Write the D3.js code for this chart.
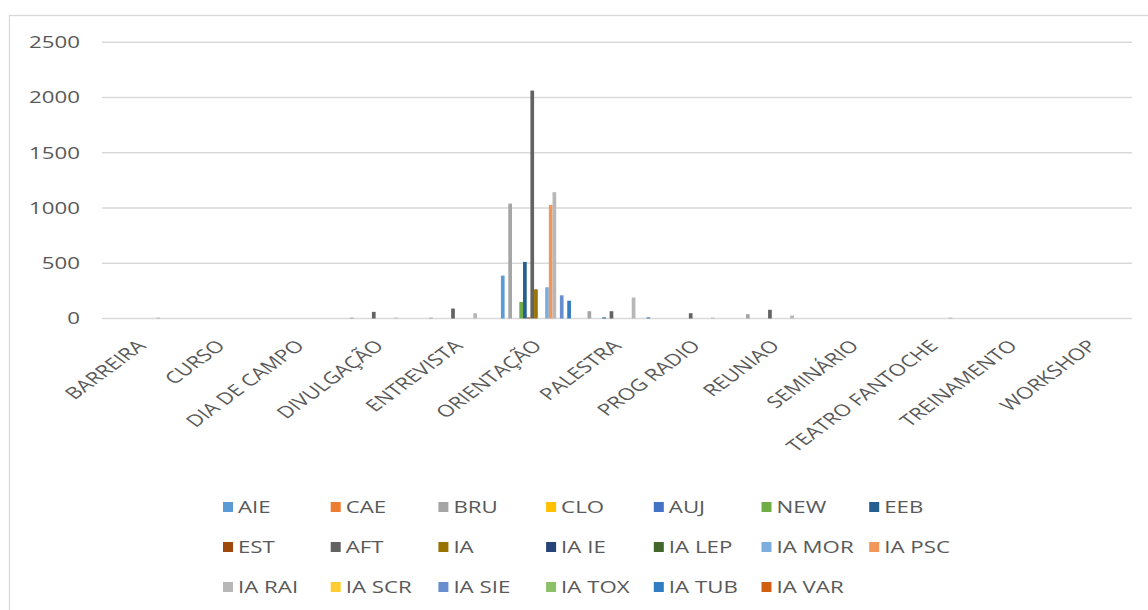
<!DOCTYPE html>
<html>
<head>
<meta charset="utf-8">
<script src="https://cdn.jsdelivr.net/npm/d3@7"></script>
<style>
  html, body { margin: 0; padding: 0; background: #fff; }
  svg { display: block; }
  text { font-family: "Open Sans", "DejaVu Sans", sans-serif; fill: #595959; }
</style>
</head>
<body>
<svg id="chart" width="1148" height="610"></svg>
<script>
// Activity categories along the x axis
const categories = ["BARREIRA", "CURSO", "DIA DE CAMPO", "DIVULGAÇÃO", "ENTREVISTA",
  "ORIENTAÇÃO", "PALESTRA", "PROG RADIO", "REUNIAO", "SEMINÁRIO",
  "TEATRO FANTOCHE", "TREINAMENTO", "WORKSHOP"];

// Series names, in legend order
const seriesNames = ["AIE", "CAE", "BRU", "CLO", "AUJ", "NEW", "EEB",
  "EST", "AFT", "IA", "IA IE", "IA LEP", "IA MOR", "IA PSC",
  "IA RAI", "IA SCR", "IA SIE", "IA TOX", "IA TUB", "IA VAR"];

const seriesColors = ["#5B9BD5", "#ED7D31", "#A5A5A5", "#FFC000", "#4472C4", "#70AD47", "#255E91",
  "#9E480E", "#636363", "#997300", "#264478", "#43682B", "#7CAFDD", "#F1975A",
  "#B7B7B7", "#FFCD33", "#698ED0", "#8CC168", "#327DC2", "#D26012"];

// One row per series, one value per category
const seriesValues = [
  /* AIE    */ [0, 0, 0, 0, 0, 388, 0, 0, 0, 0, 0, 0, 0],
  /* CAE    */ [0, 0, 0, 0, 0, 0, 0, 0, 0, 0, 0, 0, 0],
  /* BRU    */ [0, 0, 0, 8, 8, 1040, 66, 0, 39, 0, 0, 0, 0],
  /* CLO    */ [0, 0, 0, 0, 0, 0, 0, 0, 0, 0, 0, 0, 0],
  /* AUJ    */ [0, 0, 0, 0, 0, 0, 0, 0, 0, 0, 0, 0, 0],
  /* NEW    */ [0, 0, 0, 0, 0, 150, 0, 0, 0, 0, 0, 0, 0],
  /* EEB    */ [0, 0, 0, 0, 0, 512, 10, 0, 0, 0, 0, 0, 0],
  /* EST    */ [0, 0, 0, 0, 0, 10, 0, 0, 0, 0, 0, 0, 0],
  /* AFT    */ [0, 0, 0, 60, 90, 2063, 66, 48, 79, 0, 0, 0, 0],
  /* IA     */ [0, 0, 0, 0, 0, 264, 0, 0, 0, 0, 0, 0, 0],
  /* IA IE  */ [0, 0, 0, 0, 0, 0, 0, 0, 0, 0, 0, 0, 0],
  /* IA LEP */ [0, 0, 0, 0, 0, 0, 0, 0, 0, 0, 0, 0, 0],
  /* IA MOR */ [0, 0, 0, 0, 0, 283, 0, 0, 0, 0, 0, 0, 0],
  /* IA PSC */ [0, 0, 0, 0, 0, 1028, 0, 0, 0, 0, 0, 0, 0],
  /* IA RAI */ [8, 0, 0, 8, 48, 1143, 190, 8, 27, 0, 8, 0, 0],
  /* IA SCR */ [0, 0, 0, 0, 0, 0, 0, 0, 0, 0, 0, 0, 0],
  /* IA SIE */ [0, 0, 0, 0, 0, 210, 0, 0, 0, 0, 0, 0, 0],
  /* IA TOX */ [0, 0, 0, 0, 0, 0, 0, 0, 0, 0, 0, 0, 0],
  /* IA TUB */ [0, 0, 0, 0, 0, 161, 10, 0, 0, 0, 0, 0, 0],
  /* IA VAR */ [0, 0, 0, 0, 0, 0, 0, 0, 0, 0, 0, 0, 0]
];

const yTicks = [0, 500, 1000, 1500, 2000, 2500];

const svg = d3.select("#chart");
const textStretch = 1.35;   // wide lettering
const fontSize = 16.5;

const plot = { left: 102, right: 1132, top: 42.3, bottom: 318.5 };

// Chart frame
svg.append("rect")
  .attr("x", 9.5).attr("y", 15.5)
  .attr("width", 1160).attr("height", 620)
  .attr("fill", "none").attr("stroke", "#D9D9D9").attr("stroke-width", 1.3);

const x0 = d3.scaleBand().domain(categories).range([plot.left, plot.right]).paddingInner(0).paddingOuter(0);
const x1 = d3.scaleBand().domain(seriesNames).range([0, x0.bandwidth()]).paddingInner(0).paddingOuter(0.75);
const y = d3.scaleLinear().domain([0, 2500]).range([plot.bottom, plot.top]);

// Horizontal gridlines
svg.append("g").selectAll("line").data(yTicks).join("line")
  .attr("x1", plot.left).attr("x2", plot.right)
  .attr("y1", d => y(d)).attr("y2", d => y(d))
  .attr("stroke", "#D9D9D9").attr("stroke-width", 1.4);

// Y axis labels
svg.append("g").selectAll("text").data(yTicks).join("text")
  .attr("transform", d => `translate(80,${y(d)}) scale(${textStretch},1)`)
  .attr("text-anchor", "end")
  .attr("dy", "0.36em")
  .attr("font-size", fontSize)
  .text(d => d);

// Bars
const groups = svg.append("g").selectAll("g").data(categories).join("g")
  .attr("transform", d => `translate(${x0(d)},0)`);

groups.selectAll("rect")
  .data((c, ci) => seriesNames.map((s, si) => ({ s, si, v: seriesValues[si][ci] })).filter(d => d.v > 0))
  .join("rect")
  .attr("x", d => x1(d.s))
  .attr("width", x1.bandwidth())
  .attr("y", d => y(d.v))
  .attr("height", d => y(0) - y(d.v))
  .attr("fill", d => seriesColors[d.si]);

// Category labels, slanted
svg.append("g").selectAll("text").data(categories).join("text")
  .attr("transform", d => `translate(${x0(d) + x0.bandwidth() / 2 - 6},${plot.bottom + 20}) scale(${textStretch},1) rotate(-45)`)
  .attr("text-anchor", "end")
  .attr("dy", "0.72em")
  .attr("font-size", fontSize)
  .text(d => d);

// Legend: 7 items per row
const legendX = 223, legendStep = 107.7, legendRows = [507, 547, 587];
const legend = svg.append("g").selectAll("g").data(seriesNames).join("g")
  .attr("transform", (d, i) => `translate(${legendX + (i % 7) * legendStep},${legendRows[Math.floor(i / 7)]})`);

legend.append("rect")
  .attr("x", 0).attr("y", -5)
  .attr("width", 10).attr("height", 10)
  .attr("fill", (d, i) => seriesColors[i]);

legend.append("text")
  .attr("transform", `translate(15,0) scale(${textStretch},1)`)
  .attr("dy", "0.36em")
  .attr("font-size", fontSize)
  .text(d => d);
</script>
</body>
</html>
